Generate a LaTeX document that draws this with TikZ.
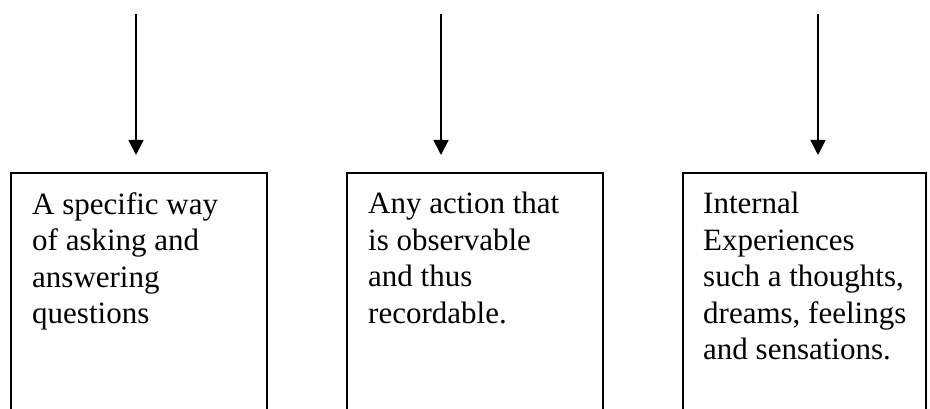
\documentclass[tikz,border=0pt]{standalone}
\usepackage{fontspec}
\setmainfont{Liberation Serif}
\usetikzlibrary{arrows.meta}
\begin{document}
\begin{tikzpicture}[x=1pt,y=-1pt,
  flow/.style={line width=1.8pt,-{Triangle[width=15pt,length=15pt]},shorten >=18pt},
  boxline/.style={line width=2pt},
  openbox/.style={draw=none,inner sep=0pt,minimum width=256pt,minimum height=238pt,anchor=north west},
  boxtext/.style={anchor=north west,inner sep=0pt,align=left,font=\fontsize{31}{36.5}\selectfont}]
\useasboundingbox (0,0) rectangle (930,409);
% boxes (open at the bottom edge of the picture)
\node[openbox] (b1) at (11,173) {};
\node[openbox] (b2) at (347,173) {};
\node[openbox,minimum width=243pt] (b3) at (683,173) {};
\draw[boxline] (b1.south west) |- (b1.north east) -- (b1.south east);
\draw[boxline] (b2.south west) |- (b2.north east) -- (b2.south east);
\draw[boxline] (b3.south west) |- (b3.north east) -- (b3.south east);
% arrows
\coordinate (a1) at (136,14);
\coordinate (a2) at (441,14);
\coordinate (a3) at (818,14);
\draw[flow] (a1) -- (a1 |- b1.north);
\draw[flow] (a2) -- (a2 |- b2.north);
\draw[flow] (a3) -- (a3 |- b3.north);
% texts
\node[boxtext] (t1) at (32,192) {A specific way\\of asking and\\answering\\questions};
\node[boxtext] (t2) at (368,192) {Any action that\\is observable\\and thus\\recordable.};
\node[boxtext] (t3) at (703,192) {Internal\\Experiences\\such a thoughts,\\dreams, feelings\\and sensations.};
\end{tikzpicture}
\end{document}
